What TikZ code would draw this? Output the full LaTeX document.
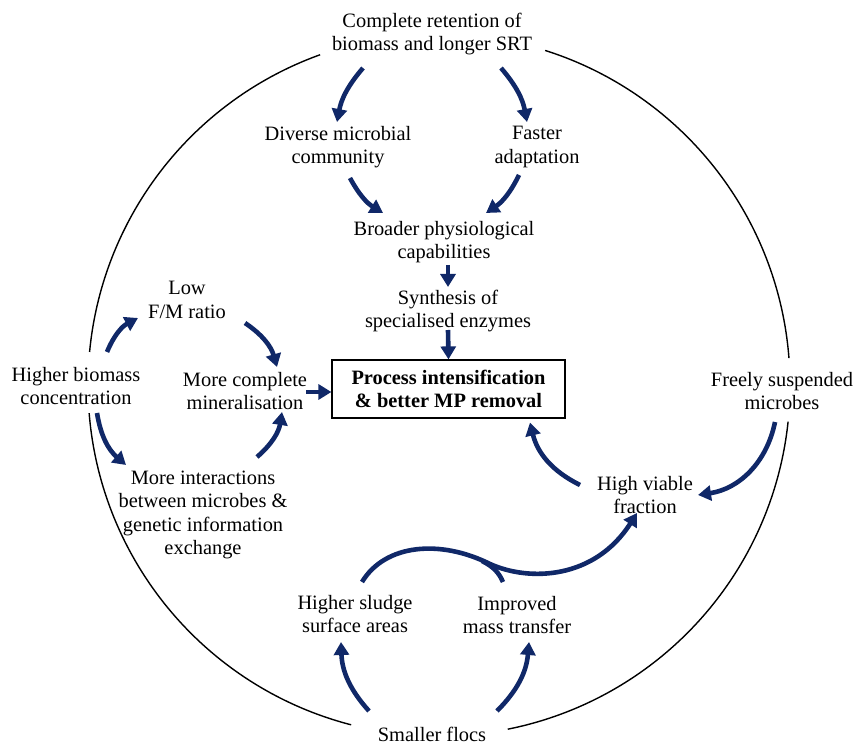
\documentclass[tikz,border=0pt]{standalone}
\usepackage{fontspec}
\setmainfont{Liberation Serif}
\usetikzlibrary{arrows.meta}
\definecolor{navy}{RGB}{16,40,104}
\begin{document}
\begin{tikzpicture}[x=0.5pt,y=0.5pt,
  lbl/.style={align=center, font=\fontsize{10.2}{11.6}\selectfont, inner sep=0pt},
  arr/.style={draw=navy, line width=2.3pt, -{Triangle[length=6.5pt,width=7.5pt]}},
  flow/.style={draw=navy, line width=2.3pt},
  ring/.style={line width=0.7pt}]
\useasboundingbox (0,0) rectangle (855,744);
\coordinate (c) at (439,359);
\draw[ring] ([shift={(72.4:351)}]c) arc[start angle=72.4,end angle=4.4,radius=351];
\draw[ring] ([shift={(-6:351)}]c) arc[start angle=-6,end angle=-78.7,radius=351];
\draw[ring] ([shift={(255.5:351)}]c) arc[start angle=255.5,end angle=184.6,radius=351];
\draw[ring] ([shift={(174.6:351)}]c) arc[start angle=174.6,end angle=109.8,radius=351];

\node[lbl] (top) at (432,710) {Complete retention of\\biomass and longer SRT};
\node[lbl] (div) at (338,597) {Diverse microbial\\community};
\node[lbl] (fast) at (537,597) {Faster\\adaptation};
\node[lbl] (broad) at (444,502) {Broader physiological\\capabilities};
\node[lbl] (synth) at (448,433) {Synthesis of\\specialised enzymes};
\node[lbl, draw, line width=0.6pt, minimum width=116.5pt, minimum height=29pt, font=\bfseries\fontsize{10.2}{11.6}\selectfont] (box) at (448.5,355) {Process intensification\\\& better MP removal};
\node[lbl] (low) at (187,444) {Low\\F/M ratio};
\node[lbl] (hbc) at (76,358) {Higher biomass\\concentration};
\node[lbl] (mcm) at (245,353) {More complete\\mineralisation};
\node[lbl] (mi) at (203,229) {More interactions\\between microbes \&\\genetic information\\exchange};
\node[lbl] (free) at (782,353) {Freely suspended\\microbes};
\node[lbl] (hvf) at (645,249) {High viable\\fraction};
\node[lbl] (hs) at (355,130) {Higher sludge\\surface areas};
\node[lbl] (imp) at (517,129) {Improved\\mass transfer};
\node[lbl] (sf) at (432,10) {Smaller flocs};

\draw[arr] ([shift={(-69,-34)}]top.center) to[bend right=15] ([shift={(-1,25)}]div.center);
\draw[arr] ([shift={(69,-34)}]top.center) to[bend left=15] ([shift={(-10,25)}]fast.center);
\draw[arr] ([shift={(12,-31)}]div.center) to[bend right=15] ([shift={(-61,29)}]broad.center);
\draw[arr] ([shift={(-18,-28)}]fast.center) to[bend left=15] ([shift={(42,29)}]broad.center);
\draw[arr] ([shift={(4,-23)}]broad.center) -- ([shift={(0,24)}]synth.center);
\draw[arr] ([shift={(0,-19)}]synth.center) -- (box.north);
\draw[arr] ([shift={(31,34)}]hbc.center) to[bend left=20] ([shift={(-49,-18)}]low.center);
\draw[arr] ([shift={(58,-23)}]low.center) to[bend left=20] ([shift={(32,24)}]mcm.center);
\draw[arr] ([shift={(21,-27)}]hbc.center) to[bend right=20] ([shift={(-77,50)}]mi.center);
\draw[arr] ([shift={(54,58)}]mi.center) to[bend right=20] ([shift={(37,-21)}]mcm.center);
\draw[arr] ([shift={(61,-1)}]mcm.center) -- ([shift={(0,-3)}]box.west);
\draw[arr] ([shift={(-65,10)}]hvf.center) to[bend left=25] ([shift={(81.5,-4)}]box.south);
\draw[arr] ([shift={(-7,-31)}]free.center) to[bend left=35] ([shift={(53,0)}]hvf.center);
\draw[arr] ([shift={(-63,23)}]sf.center) to[bend left=20] ([shift={(-14,-28)}]hs.center);
\draw[arr] ([shift={(65,23)}]sf.center) to[bend right=20] ([shift={(12,-27)}]imp.center);

\draw[arr] ([shift={(7,32)}]hs.center) .. controls (385,200) and (440,205) .. (490,180)
  .. controls (530,162) and (595,165) .. ([shift={(-8,-18)}]hvf.center);
\draw[flow] ([shift={(-14,33)}]imp.center) .. controls (499,171) and (494,177) .. (482,183);
\end{tikzpicture}
\end{document}
